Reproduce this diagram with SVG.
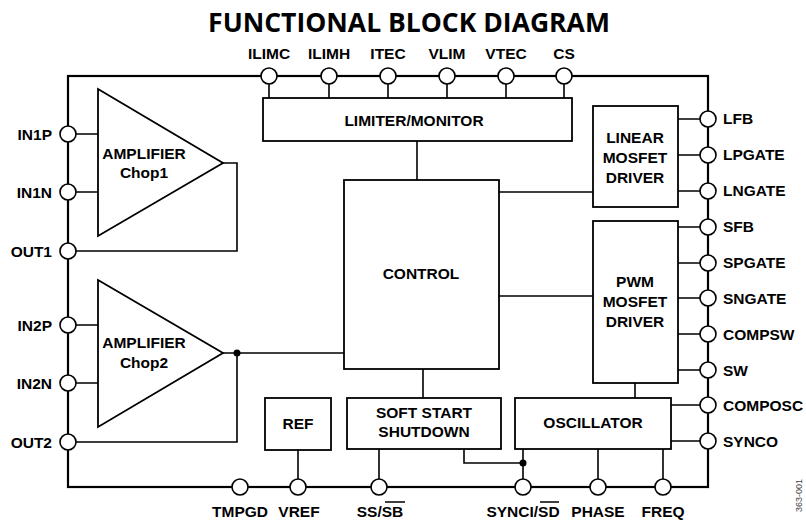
<svg xmlns="http://www.w3.org/2000/svg" width="806" height="520" viewBox="0 0 806 520">
<style>
.bd{fill:none;stroke:#000;stroke-width:2.2}
.bx{fill:#fff;stroke:#000;stroke-width:1.8}
.ln{fill:none;stroke:#000;stroke-width:1.6}
.pin{fill:#fff;stroke:#000;stroke-width:1.6}
.t{font-family:"Liberation Sans",Arial,sans-serif;font-weight:bold;font-size:15.5px;fill:#000}
.c{text-anchor:middle}
.r{text-anchor:end}
.title{font-family:"Open Sans","DejaVu Sans",sans-serif;font-weight:bold;font-size:26.5px;text-anchor:middle;fill:#000}
</style>
<rect width="806" height="520" fill="#fff"/>
<text class="title" x="409" y="32">FUNCTIONAL BLOCK DIAGRAM</text>
<rect class="bd" x="68" y="76" width="640" height="411"/>
<g id="connectors">
<path class="ln" d="M269 76V98M329 76V98M388 76V98M447 76V98M506 76V98M564 76V98"/>
<path class="ln" d="M417 141V180M499 192H593M499 296H593M423 369V398M635 383V398"/>
<path class="ln" d="M678 119H708M678 155H708M678 191H708"/>
<path class="ln" d="M678 227H708M678 263H708M678 298H708M678 334H708M678 370H708"/>
<path class="ln" d="M671 405H708M671 441H708"/>
<path class="ln" d="M523 449V487M598 449V487M663 449V487M464 449V463H523"/>
<path class="ln" d="M298 450V487M379 449V487"/>
<path class="ln" d="M68 134H98M68 192H98M68 325H98M68 383H98"/>
<path class="ln" d="M223 163H237V251H68M223 353H344M237 353V442H68"/>
<circle cx="237" cy="353" r="3.5"/>
<circle cx="523" cy="463" r="3.5"/>
</g>
<g id="amp1"><path class="bx" d="M98 89L223 163L98 236Z"/><text class="t c" x="144" y="159">AMPLIFIER</text><text class="t c" x="144" y="178">Chop1</text></g>
<g id="amp2"><path class="bx" d="M98 280L223 353L98 427Z"/><text class="t c" x="144" y="348">AMPLIFIER</text><text class="t c" x="144" y="368">Chop2</text></g>
<g id="limiter"><rect class="bx" x="263" y="98" width="309" height="43"/><text class="t c" x="414" y="126">LIMITER/MONITOR</text></g>
<g id="control"><rect class="bx" x="344" y="180" width="155" height="189"/><text class="t c" x="421" y="279">CONTROL</text></g>
<g id="linear"><rect class="bx" x="593" y="106" width="85" height="101"/><text class="t c" x="635" y="143">LINEAR</text><text class="t c" x="635" y="163">MOSFET</text><text class="t c" x="635" y="183">DRIVER</text></g>
<g id="pwm"><rect class="bx" x="593" y="221" width="85" height="162"/><text class="t c" x="635" y="287">PWM</text><text class="t c" x="635" y="307">MOSFET</text><text class="t c" x="635" y="327">DRIVER</text></g>
<g id="ref"><rect class="bx" x="265" y="398" width="66" height="52"/><text class="t c" x="298" y="429">REF</text></g>
<g id="softstart"><rect class="bx" x="347" y="398" width="154" height="51"/><text class="t c" x="424" y="418">SOFT START</text><text class="t c" x="424" y="437">SHUTDOWN</text></g>
<g id="osc"><rect class="bx" x="515" y="398" width="156" height="51"/><text class="t c" x="593" y="428">OSCILLATOR</text></g>
<g id="pins">
<circle class="pin" cx="269" cy="76" r="8"/><circle class="pin" cx="329" cy="76" r="8"/><circle class="pin" cx="388" cy="76" r="8"/><circle class="pin" cx="447" cy="76" r="8"/><circle class="pin" cx="506" cy="76" r="8"/><circle class="pin" cx="564" cy="76" r="8"/>
<circle class="pin" cx="708" cy="119" r="8"/><circle class="pin" cx="708" cy="155" r="8"/><circle class="pin" cx="708" cy="191" r="8"/>
<circle class="pin" cx="708" cy="227" r="8"/><circle class="pin" cx="708" cy="263" r="8"/><circle class="pin" cx="708" cy="298" r="8"/><circle class="pin" cx="708" cy="334" r="8"/><circle class="pin" cx="708" cy="370" r="8"/>
<circle class="pin" cx="708" cy="405" r="8"/><circle class="pin" cx="708" cy="441" r="8"/>
<circle class="pin" cx="68" cy="134" r="8"/><circle class="pin" cx="68" cy="192" r="8"/><circle class="pin" cx="68" cy="251" r="8"/><circle class="pin" cx="68" cy="325" r="8"/><circle class="pin" cx="68" cy="383" r="8"/><circle class="pin" cx="68" cy="442" r="8"/>
<circle class="pin" cx="240" cy="487" r="8"/><circle class="pin" cx="298" cy="487" r="8"/><circle class="pin" cx="379" cy="487" r="8"/><circle class="pin" cx="523" cy="487" r="8"/><circle class="pin" cx="598" cy="487" r="8"/><circle class="pin" cx="663" cy="487" r="8"/>
</g>
<g id="labels">
<text class="t c" x="269" y="59">ILIMC</text><text class="t c" x="329" y="59">ILIMH</text><text class="t c" x="388" y="59">ITEC</text><text class="t c" x="447" y="59">VLIM</text><text class="t c" x="506" y="59">VTEC</text><text class="t c" x="564" y="59">CS</text>
<text class="t" x="723" y="124">LFB</text><text class="t" x="723" y="160">LPGATE</text><text class="t" x="723" y="196">LNGATE</text>
<text class="t" x="723" y="232">SFB</text><text class="t" x="723" y="268">SPGATE</text><text class="t" x="723" y="304">SNGATE</text><text class="t" x="723" y="340">COMPSW</text><text class="t" x="723" y="376">SW</text>
<text class="t" x="723" y="411">COMPOSC</text><text class="t" x="723" y="447">SYNCO</text>
<text class="t r" x="52" y="140">IN1P</text><text class="t r" x="52" y="198">IN1N</text><text class="t r" x="52" y="257">OUT1</text><text class="t r" x="52" y="331">IN2P</text><text class="t r" x="52" y="389">IN2N</text><text class="t r" x="52" y="448">OUT2</text>
<text class="t c" x="240" y="517">TMPGD</text><text class="t c" x="299" y="517">VREF</text><text class="t c" x="380" y="517">SS/SB</text><text class="t c" x="523" y="517">SYNCI/SD</text><text class="t c" x="598" y="517">PHASE</text><text class="t c" x="663" y="517">FREQ</text>
<path class="ln" d="M385 502H405M540 502H559" stroke-width="1.4"/>
<text x="802" y="512" transform="rotate(-90 802 512)" font-family="Liberation Sans,Arial,sans-serif" font-size="9" fill="#444">363-001</text>
</g>
</svg>
